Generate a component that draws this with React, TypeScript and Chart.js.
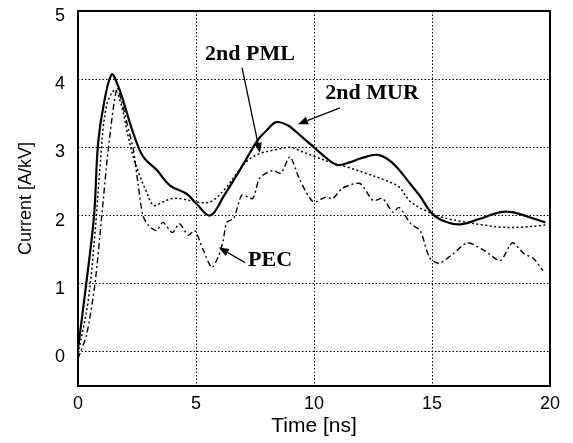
import React, { useEffect, useRef } from "react";
import { Chart, registerables } from "chart.js";

Chart.register(...registerables);

const xTicks = [0, 5, 10, 15, 20];
const yTicks = [0, 1, 2, 3, 4, 5];

const murTime = [0, 0.35, 0.68, 0.85, 1.1, 1.43, 1.7, 1.9, 2.35, 2.77, 3.33, 3.9, 4.6, 5.0, 5.6, 6.2, 7.0, 7.6, 8.0, 8.4, 8.9, 9.4, 10.0, 10.5, 11.0, 11.5, 12.0, 12.7, 13.3, 14.0, 14.5, 15.0, 15.5, 16.2, 17.0, 17.9, 18.4, 19.0, 19.8];
const murValues = [0.05, 1.0, 2.0, 3.05, 3.65, 4.07, 3.9, 3.7, 3.2, 2.86, 2.67, 2.44, 2.32, 2.18, 2.0, 2.3, 2.75, 3.1, 3.25, 3.37, 3.32, 3.18, 3.0, 2.85, 2.74, 2.78, 2.84, 2.89, 2.78, 2.5, 2.28, 2.03, 1.92, 1.87, 1.95, 2.05, 2.05, 1.99, 1.9];

const pmlTime = [0, 0.43, 0.72, 0.93, 1.2, 1.57, 1.85, 2.1, 2.35, 2.6, 2.9, 3.2, 3.6, 4.0, 4.5, 5.0, 5.6, 6.2, 6.8, 7.2, 7.7, 8.3, 9.0, 9.4, 10.0, 10.8, 11.5, 12.2, 13.0, 13.6, 14.1, 15.0, 15.7, 16.5, 17.2, 17.9, 18.8, 19.8];
const pmlValues = [-0.03, 0.75, 1.74, 2.7, 3.6, 3.84, 3.6, 3.2, 2.85, 2.6, 2.35, 2.15, 2.2, 2.25, 2.24, 2.2, 2.2, 2.38, 2.65, 2.81, 2.91, 2.96, 3.0, 2.95, 2.87, 2.77, 2.7, 2.62, 2.52, 2.42, 2.2, 2.03, 1.95, 1.9, 1.86, 1.83, 1.83, 1.86];

const pecTime = [0, 0.37, 0.72, 1.0, 1.28, 1.65, 1.9, 2.15, 2.35, 2.55, 2.75, 3.0, 3.33, 3.6, 4.0, 4.3, 4.67, 4.95, 5.3, 5.67, 5.95, 6.15, 6.3, 6.6, 6.95, 7.4, 7.7, 8.25, 8.6, 8.98, 9.4, 9.97, 10.5, 10.8, 11.2, 11.95, 12.5, 12.9, 13.35, 13.6, 14.1, 14.5, 14.9, 15.3, 15.9, 16.5, 17.2, 17.9, 18.4, 18.9, 19.3, 19.7];
const pecValues = [-0.1, 0.26, 1.0, 1.97, 2.96, 3.87, 3.6, 3.25, 2.96, 2.45, 2.0, 1.85, 1.78, 1.9, 1.75, 1.88, 1.71, 1.78, 1.5, 1.24, 1.4, 1.63, 1.9, 1.96, 2.3, 2.25, 2.55, 2.66, 2.62, 2.86, 2.52, 2.2, 2.27, 2.25, 2.4, 2.47, 2.22, 2.25, 2.05, 2.12, 1.88, 1.78, 1.38, 1.3, 1.44, 1.6, 1.49, 1.34, 1.6, 1.44, 1.37, 1.19];

const labelTexts = ["2nd PML", "2nd MUR", "PEC"];
const labelX = [7.29, 12.46, 8.14];
const labelY = [4.36, 3.8, 1.35];
const arrowFromX = [6.95, 11.1, 7.08];
const arrowFromY = [4.17, 3.58, 1.31];
const arrowToX = [7.71, 9.32, 5.97];
const arrowToY = [2.92, 3.34, 1.53];

const toPoints = (t: number[], v: number[]) => t.map((x, i) => ({ x, y: v[i] }));

const annotPlugin = {
  id: "annot",
  afterDatasetsDraw(chart: any) {
    const { ctx, chartArea, scales } = chart;
    const xs = scales.x;
    const ys = scales.y;
    ctx.save();
    ctx.strokeStyle = "#000";
    ctx.lineWidth = 2;
    ctx.setLineDash([]);
    ctx.strokeRect(chartArea.left, chartArea.top, chartArea.right - chartArea.left, chartArea.bottom - chartArea.top);
    ctx.fillStyle = "#000";
    ctx.font = "bold 22px 'Liberation Serif', 'DejaVu Serif', serif";
    ctx.textAlign = "center";
    ctx.textBaseline = "middle";
    labelTexts.forEach((t, i) => {
      ctx.fillText(t, xs.getPixelForValue(labelX[i]), ys.getPixelForValue(labelY[i]));
    });
    ctx.lineWidth = 1.3;
    for (let i = 0; i < labelTexts.length; i++) {
      const x1 = xs.getPixelForValue(arrowFromX[i]);
      const y1 = ys.getPixelForValue(arrowFromY[i]);
      const x2 = xs.getPixelForValue(arrowToX[i]);
      const y2 = ys.getPixelForValue(arrowToY[i]);
      const ang = Math.atan2(y2 - y1, x2 - x1);
      const hl = 10;
      const hw = 4;
      const bx = x2 - hl * Math.cos(ang);
      const by = y2 - hl * Math.sin(ang);
      ctx.beginPath();
      ctx.moveTo(x1, y1);
      ctx.lineTo(bx, by);
      ctx.stroke();
      ctx.beginPath();
      ctx.moveTo(x2, y2);
      ctx.lineTo(bx + hw * Math.sin(ang), by - hw * Math.cos(ang));
      ctx.lineTo(bx - hw * Math.sin(ang), by + hw * Math.cos(ang));
      ctx.closePath();
      ctx.fill();
    }
    ctx.restore();
  },
};

export default function App() {
  const ref = useRef<HTMLCanvasElement>(null);
  useEffect(() => {
    if (!ref.current) return;
    const tickFont = { family: "'Liberation Sans', Arial, sans-serif", size: 18 };
    const xTitleFont = { family: "'Liberation Sans', Arial, sans-serif", size: 21 };
    const chart = new Chart(ref.current, {
      type: "line",
      data: {
        datasets: [
          {
            label: "2nd MUR",
            data: toPoints(murTime, murValues),
            borderColor: "#000",
            borderWidth: 2.2,
            pointRadius: 0,
            tension: 0.35,
            fill: false,
          },
          {
            label: "2nd PML",
            data: toPoints(pmlTime, pmlValues),
            borderColor: "#000",
            borderWidth: 1.5,
            borderDash: [2, 2.5],
            pointRadius: 0,
            tension: 0.35,
            fill: false,
          },
          {
            label: "PEC",
            data: toPoints(pecTime, pecValues),
            borderColor: "#000",
            borderWidth: 1.4,
            borderDash: [6, 3, 2, 3],
            pointRadius: 0,
            tension: 0.25,
            fill: false,
          },
        ],
      },
      options: {
        animation: false,
        responsive: false,
        maintainAspectRatio: false,
        layout: { padding: { top: 11, right: 23, bottom: 0, left: 0 } },
        plugins: { legend: { display: false }, tooltip: { enabled: false } },
        scales: {
          x: {
            type: "linear",
            min: 0,
            max: 20,
            afterBuildTicks: (s: any) => {
              s.ticks = xTicks.map((v) => ({ value: v }));
            },
            afterFit: (s: any) => {
              s.height = 57;
              s.paddingLeft = 0;
              s.paddingRight = 0;
            },
            grid: { color: "#000", lineWidth: 1, drawTicks: false },
            border: { display: false, dash: [1.5, 2] },
            ticks: { color: "#000", font: tickFont, padding: 7, maxRotation: 0 },
            title: { display: true, text: "Time [ns]", color: "#000", font: xTitleFont, padding: { top: 0, bottom: 4 } },
          },
          y: {
            type: "linear",
            min: -0.5,
            max: 5,
            afterBuildTicks: (s: any) => {
              s.ticks = yTicks.map((v) => ({ value: v }));
            },
            afterFit: (s: any) => {
              s.width = 78;
              s.paddingTop = 0;
              s.paddingBottom = 0;
            },
            grid: { color: "#000", lineWidth: 1, drawTicks: false },
            border: { display: false, dash: [1.5, 2] },
            ticks: { color: "#000", font: tickFont, padding: 13, labelOffset: 5 },
            title: { display: true, text: "Current [A/kV]", color: "#000", font: tickFont, padding: { top: 15, bottom: 0 } },
          },
        },
      },
      plugins: [annotPlugin],
    });
    return () => chart.destroy();
  }, []);
  return (
    <div style={{ position: "fixed", left: 0, top: 0, width: 573, height: 443, background: "#fff" }}>
      <canvas ref={ref} width={573} height={443} />
    </div>
  );
}
